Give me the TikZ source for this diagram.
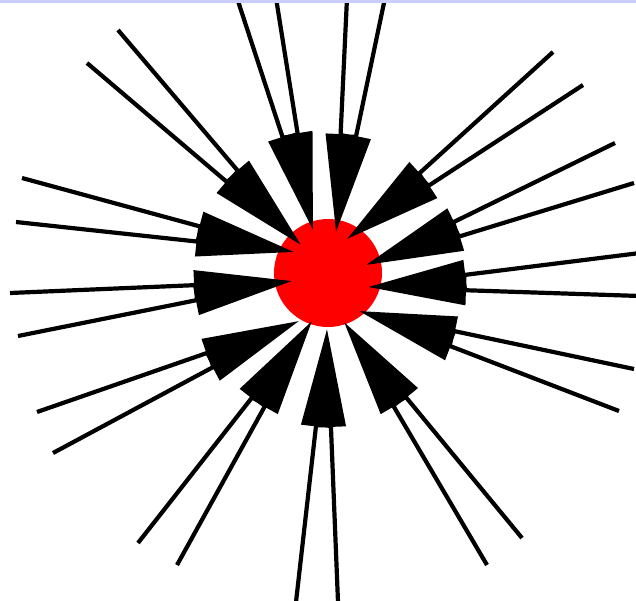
\documentclass[tikz,border=0pt]{standalone}
\usetikzlibrary{arrows.meta}
\definecolor{topband}{RGB}{204,204,255}
\begin{document}
\begin{tikzpicture}[x=1pt,y=-1pt,>={Triangle[length=98pt,width=29pt]},
    spoke/.style={->,line width=4.2pt,black}]
  \useasboundingbox (0,0) rectangle (636,600);
  \clip (0,0) rectangle (636,600);
  % red disc in the middle
  \node[circle,fill=red,inner sep=0pt,minimum size=108pt] (hub) at (328,273) {};
  % arrow tips, each shared by two spokes
  \foreach \n/\x/\y in {a/313/230, b/336/232, c/301/245, d/294/252, e/292/281,
      f/299/321, g/312/321, h/327/329, i/344/322, j/359/311, k/368/287,
      l/366/265, m/347/239}
    \coordinate (tip-\n) at (\x,\y);
  % outer ends of the spokes
  \foreach \n/\x/\y in {a/237/-2, a/276/-2, b/347/-2, b/385/-2, c/118/30, c/87/63,
      d/22/178, d/16/222, e/10/293, e/18/336, f/37/412, f/53/453,
      g/138/543, g/177/565, h/296/602, h/338/602, i/487/565, i/522/538,
      j/634/369, j/619/411, k/640/253, k/640/296, l/615/143, l/634/183,
      m/553/52, m/583/85}
    \draw[spoke] (\x,\y) coordinate (end) -- (tip-\n);
  \fill[topband] (0,0) rectangle (636,2.5);
\end{tikzpicture}
\end{document}
